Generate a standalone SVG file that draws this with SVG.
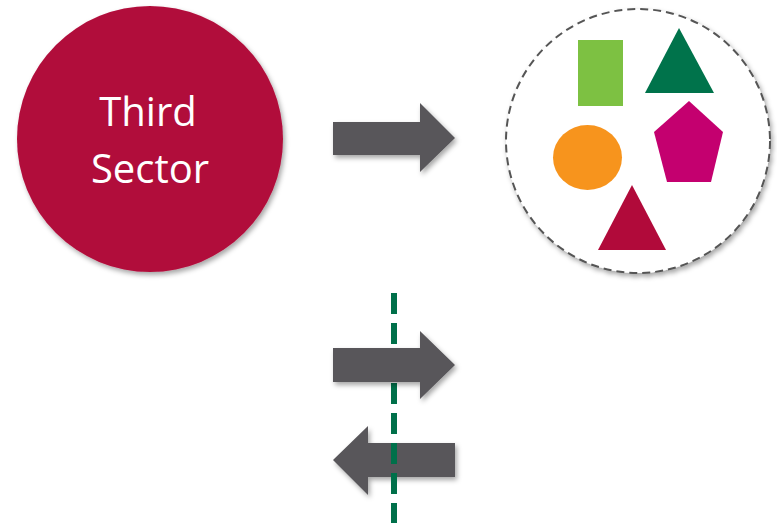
<svg xmlns="http://www.w3.org/2000/svg" width="777" height="529" viewBox="0 0 777 529">
<defs>
<filter id="sh" x="-20%" y="-20%" width="140%" height="140%">
<feDropShadow dx="2" dy="3" stdDeviation="2.5" flood-color="#000" flood-opacity="0.35"/>
</filter>
<style>
.arrow{fill:#58565a;filter:url(#sh)}
.lbl{font-family:"Open Sans","Liberation Sans",sans-serif;font-size:40px;fill:#fff;text-anchor:middle}
</style>
</defs>
<rect width="777" height="529" fill="#fff"/>
<g id="third-sector">
<circle cx="150" cy="139" r="133" fill="#b10a3a" filter="url(#sh)"/>
<text class="lbl" x="148" y="126">Third</text>
<text class="lbl" x="150" y="183">Sector</text>
</g>
<g id="shapes-group">
<circle cx="638" cy="141" r="132" fill="#fff" stroke="#555" stroke-width="2" stroke-dasharray="8 5" filter="url(#sh)"/>
<rect x="578" y="40" width="45" height="66" fill="#7dc142"/>
<polygon points="679,28 714,93 645,93" fill="#00734b"/>
<ellipse cx="587.5" cy="157.5" rx="34.5" ry="32.5" fill="#f7941d"/>
<polygon points="689,101 723,132 711,182 667,182 654,132" fill="#c4006f"/>
<polygon points="632,185 666,250 598,250" fill="#b10a3a"/>
</g>
<g id="connectors">
<polygon class="arrow" points="333,122 420,122 420,103 455,138 420,172 420,155 333,155"/>
<polygon class="arrow" points="455,443 368,443 368,426 333,460 368,495 368,477 455,477"/>
<line x1="394" y1="285" x2="394" y2="523" stroke="#00704a" stroke-width="6" stroke-dasharray="21 9" stroke-dashoffset="-8"/>
<polygon class="arrow" points="333,348 420,348 420,331 455,365 420,399 420,382 333,382"/>
</g>
</svg>
